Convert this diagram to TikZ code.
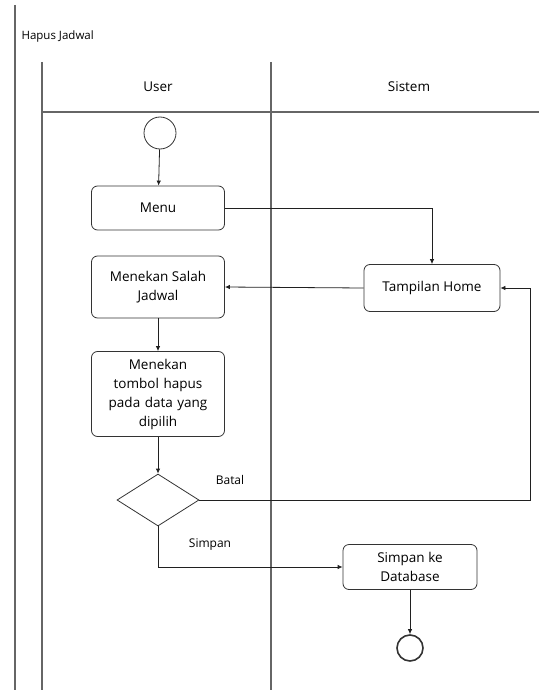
\documentclass[tikz,border=0pt]{standalone}
\usepackage{fontspec}
\setmainfont{Open Sans}
\usepackage{tikz}
\usetikzlibrary{arrows.meta, positioning, shapes.geometric}

\begin{document}
\begin{tikzpicture}[
    x=1pt, y=-1pt,
    >={Latex[length=5pt,width=4.5pt]},
    font=\fontsize{13.5}{19}\selectfont,
    lane/.style={draw=gray!80!black, line width=1.2pt},
    act/.style={rectangle, rounded corners=6pt, draw=gray!40!black, thick,
        minimum width=133pt, minimum height=44pt, align=center, inner sep=3pt},
    choice/.style={diamond, draw=gray!40!black, thick, aspect=1.55,
        minimum width=82pt, minimum height=52pt, inner sep=0pt},
    startnode/.style={circle, draw=gray!40!black, thick, minimum size=32pt, inner sep=0pt},
    endnode/.style={circle, draw=gray!40!black, line width=1.6pt, minimum size=26pt, inner sep=0pt},
    conn/.style={gray!25!black, thick, ->},
    flowlabel/.style={font=\fontsize{12}{14}\selectfont}
]
\useasboundingbox (0,0) rectangle (539,690);

% -------- Layout --------
\def\xuser{158}
\def\xsis{432}
\def\ytop{62}
\def\yhead{112}

% -------- Frame and lanes --------
\draw[lane] (15,5) -- (15,690);
\node[anchor=west, font=\fontsize{11.5}{13}\selectfont] (title) at (18,37) {Hapus Jadwal};
\draw[lane] (42,\ytop) -- (42,690);
\draw[lane] (271,\ytop) -- (271,690);
\draw[lane] (42,\yhead) -- (539,\yhead);
\node (user) at (\xuser,87) {User};
\node (sistem) at (409,87) {Sistem};

% -------- User lane --------
\node[startnode] (start) at (160,133) {};
\node[act] (menu) at (\xuser,208) {Menu};
\node[act, minimum height=62pt] (pilih) at (\xuser,287) {Menekan Salah\\Jadwal};
\node[act, minimum height=85pt, text width=124pt] (hapus) at (\xuser,394)
    {Menekan\\tombol hapus\\pada data yang\\dipilih};
\node[choice] (cek) at (\xuser,500) {};

% -------- Sistem lane --------
\node[act, minimum width=136pt, minimum height=47pt] (home) at (\xsis,288) {Tampilan Home};
\node[act, minimum width=134pt, minimum height=45pt] (simpan) at (410,567) {Simpan ke\\Database};
\node[endnode] (akhir) at (410,648) {};
\coordinate (batalturn) at (530,500);

% -------- Flows --------
\draw[conn] (start) -- (menu);
\draw[conn] (menu.east) -| (home.north);
\draw[conn] (home.west) -- (pilih.east);
\draw[conn] (pilih) -- (hapus);
\draw[conn] (hapus) -- (cek);
\draw[conn] (cek.east) -- (batalturn) |- (home.east);
\draw[conn] (cek.south) |- (simpan.west);
\draw[conn] (simpan) -- (akhir);

\node[flowlabel] (batal) at (230,480) {Batal};
\node[flowlabel] (ysimpan) at (210,545) {Simpan};

\end{tikzpicture}
\end{document}
